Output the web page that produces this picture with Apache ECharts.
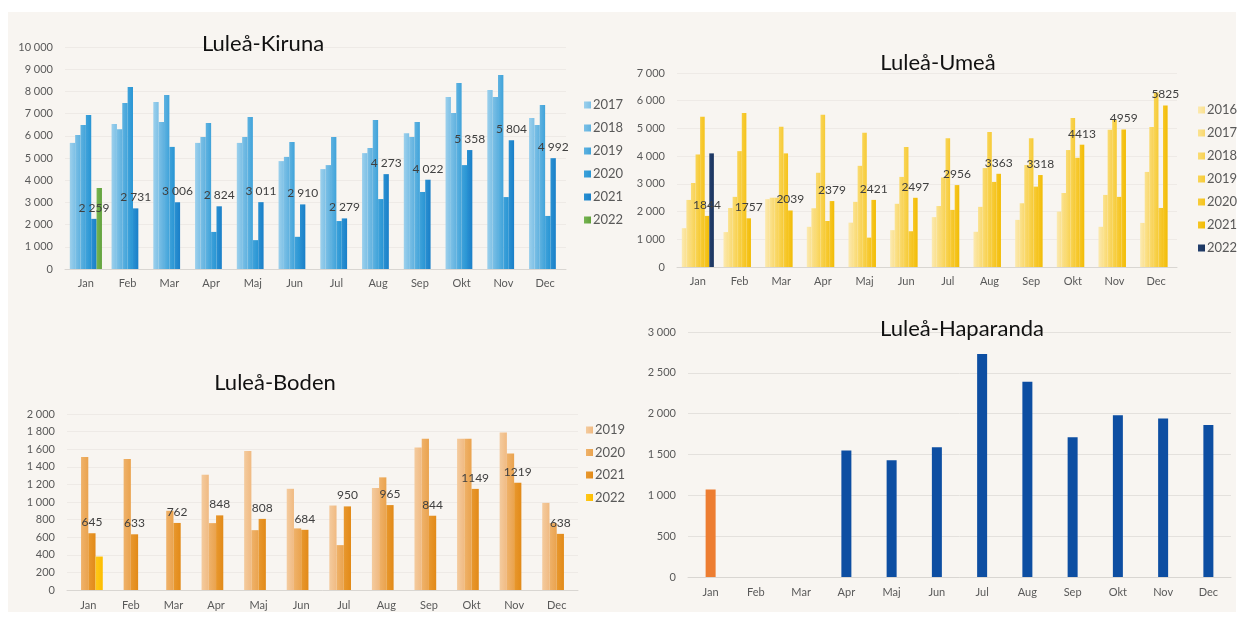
<!DOCTYPE html>
<html>
<head>
<meta charset="utf-8">
<script src="https://cdn.jsdelivr.net/npm/echarts@6/dist/echarts.min.js"></script>
<style>
  html, body { margin:0; padding:0; background:#ffffff; width:1243px; height:621px; overflow:hidden; }
  .panel { position:absolute; left:8px; top:12px; width:1228px; height:600px; background:#F8F5F1; }
  .chart { position:absolute; left:0; top:0; width:1243px; height:621px; }
</style>
</head>
<body>
<div class="panel"></div>
<div id="kiruna" class="chart"></div>
<div id="umea" class="chart"></div>
<div id="boden" class="chart"></div>
<div id="haparanda" class="chart"></div>
<script>
// ---------- DATA ----------
const months = ['Jan','Feb','Mar','Apr','Maj','Jun','Jul','Aug','Sep','Okt','Nov','Dec'];

// Luleå-Kiruna
const kirunaYears = ['2017','2018','2019','2020','2021','2022'];
const kiruna2017 = [5680, 6530, 7520, 5680, 5680, 4860, 4500, 5220, 6120, 7750, 8060, 6800];
const kiruna2018 = [6040, 6300, 6620, 5950, 5950, 5050, 4680, 5450, 5950, 7030, 7750, 6490];
const kiruna2019 = [6490, 7480, 7840, 6580, 6850, 5720, 5950, 6710, 6620, 8380, 8740, 7390];
const kiruna2020 = [6940, 8200, 5500, 1670, 1300, 1450, 2160, 3150, 3470, 4680, 3240, 2390];
const kiruna2021 = [2259, 2731, 3006, 2824, 3011, 2910, 2279, 4273, 4022, 5358, 5804, 4992];
const kiruna2022 = [3650, null, null, null, null, null, null, null, null, null, null, null];

// Luleå-Umeå
const umeaYears = ['2016','2017','2018','2019','2020','2021','2022'];
const umea2016 = [1400, 1260, 2450, 1450, 1600, 1330, 1800, 1270, 1700, 2000, 1450, 1590];
const umea2017 = [2420, 2130, 2500, 2120, 2350, 2280, 2200, 2170, 2300, 2670, 2600, 3430];
const umea2018 = [3030, 2530, 2500, 3400, 3650, 3250, 3230, 3570, 3680, 4220, 4950, 5050];
const umea2019 = [4060, 4180, 5060, 5490, 4840, 4330, 4650, 4870, 4650, 5380, 5300, 6300];
const umea2020 = [5420, 5560, 4100, 1660, 1060, 1290, 2060, 3070, 2900, 3940, 2530, 2130];
const umea2021 = [1844, 1757, 2039, 2379, 2421, 2497, 2956, 3363, 3318, 4413, 4959, 5825];
const umea2022 = [4100, null, null, null, null, null, null, null, null, null, null, null];

// Luleå-Boden
const bodenYears = ['2019','2020','2021','2022'];
const boden2019 = [null, null, null, 1310, 1580, 1150, 960, 1160, 1620, 1720, 1790, 990];
const boden2020 = [1510, 1490, 900, 760, 680, 700, 510, 1280, 1720, 1720, 1550, 760];
const boden2021 = [645, 633, 762, 848, 808, 684, 950, 965, 844, 1149, 1219, 638];
const boden2022 = [380, null, null, null, null, null, null, null, null, null, null, null];

// Luleå-Haparanda
const hapaA = [1070, null, null, null, null, null, null, null, null, null, null, null];
const hapaB = [null, null, null, 1550, 1430, 1590, 2730, 2390, 1710, 1980, 1940, 1860];

// ---------- HELPERS ----------
const FONT = 'Lato, "Open Sans", sans-serif';
const spaceFmt = v => String(v).replace(/\B(?=(\d{3})+(?!\d))/g, ' ');
const grad = (a, b) => ({type:'linear', x:0, y:0, x2:1, y2:0,
  colorStops:[{offset:0, color:a}, {offset:1, color:b}]});

function xAxis(margin) {
  return {
    type:'category', data:months,
    axisTick:{show:false},
    axisLine:{lineStyle:{color:'#D9D6D2'}},
    axisLabel:{color:'#595959', fontSize:11, fontFamily:FONT, margin:margin}
  };
}
function yAxis(max, interval, grid) {
  return {
    type:'value', min:0, max:max, interval:interval,
    axisLine:{show:false}, axisTick:{show:false},
    splitLine:{lineStyle:{color: grid || '#EEEAE6'}},
    axisLabel:{color:'#595959', fontSize:11, fontFamily:FONT, margin:12, formatter:spaceFmt}
  };
}
function title(text, x, y) {
  return {text:text, left:x, top:y, textAlign:'center',
    textStyle:{fontSize:22, fontWeight:'normal', color:'#111', fontFamily:FONT}};
}
function legend(names, left, top, gap) {
  return {orient:'vertical', left:left, top:top, data:names, icon:'rect',
    itemWidth:7, itemHeight:7, itemGap:gap,
    textStyle:{fontSize:13, color:'#595959', fontFamily:FONT, lineHeight:14, padding:[0,0,0,-3]}};
}
function barSeries(name, data, color, catGap, labelFmt) {
  const s = {name:name, type:'bar', data:data, itemStyle:{color:color},
    barGap:'0%', barCategoryGap:catGap, animation:false};
  if (labelFmt) {
    s.label = {show:true, position:'top', distance:5, fontSize:12, color:'#404040',
      fontFamily:FONT, formatter: p => labelFmt(p.value)};
  }
  return s;
}

// ---------- Luleå-Kiruna ----------
const kCols = [grad('#9CD0EC','#7DC0E6'), grad('#7CC0E6','#5FB1DF'), grad('#5FB2E0','#40A3DA'),
               grad('#3FA2DA','#2895D4'), grad('#2A91D2','#1A7FC8'), grad('#77B552','#62A23C')];
const kData = [kiruna2017, kiruna2018, kiruna2019, kiruna2020, kiruna2021, kiruna2022];
echarts.init(document.getElementById('kiruna')).setOption({
  animation:false,
  title: title('Luleå-Kiruna', 258, 28),
  legend: legend(kirunaYears, 579, 93, 9),
  grid:{left:65, right:677, top:47, bottom:352},
  xAxis: xAxis(9),
  yAxis: yAxis(10000, 1000),
  series: kirunaYears.map((y, i) => barSeries(y, kData[i], kCols[i], '23%', y === '2021' ? spaceFmt : null))
});

// ---------- Luleå-Umeå ----------
const uCols = [grad('#FCEAB0','#FAE08F'), grad('#FBE391','#F9D86F'), grad('#FADC74','#F8D152'),
               grad('#F9D557','#F6CA36'), grad('#F8CD3C','#F5C31C'), grad('#F6C625','#F2BC05'),
               grad('#24406E','#1B345E')];
const uData = [umea2016, umea2017, umea2018, umea2019, umea2020, umea2021, umea2022];
echarts.init(document.getElementById('umea')).setOption({
  animation:false,
  title: title('Luleå-Umeå', 933, 47),
  legend: legend(umeaYears, 1193, 98, 9),
  grid:{left:677, right:66, top:73, bottom:354},
  xAxis: xAxis(9),
  yAxis: yAxis(7000, 1000),
  series: umeaYears.map((y, i) => barSeries(y, uData[i], uCols[i], '23%', y === '2021' ? (v => String(v)) : null))
});

// ---------- Luleå-Boden ----------
const bCols = [grad('#F4CB9E','#F0BA82'), grad('#EFB26A','#EAA34E'), grad('#E8982F','#E28A18'),
               grad('#FFC81A','#FDBD00')];
const bData = [boden2019, boden2020, boden2021, boden2022];
echarts.init(document.getElementById('boden')).setOption({
  animation:false,
  title: title('Luleå-Boden', 270, 367),
  legend: legend(bodenYears, 581, 418, 8.5),
  grid:{left:67, right:665, top:414, bottom:31},
  xAxis: xAxis(10),
  yAxis: yAxis(2000, 200),
  series: bodenYears.map((y, i) => barSeries(y, bData[i], bCols[i], '32%', y === '2021' ? (v => String(v)) : null))
});

// ---------- Luleå-Haparanda ----------
echarts.init(document.getElementById('haparanda')).setOption({
  animation:false,
  title: title('Luleå-Haparanda', 957, 313),
  grid:{left:688, right:12, top:332, bottom:44},
  xAxis: xAxis(10),
  yAxis: yAxis(3000, 500, '#E4E1DD'),
  series: [
    {name:'A', type:'bar', data:hapaA, barWidth:10, itemStyle:{color:'#ED7D31'}, animation:false},
    {name:'B', type:'bar', data:hapaB, barWidth:10, barGap:'-100%', itemStyle:{color:'#0D4EA2'}, animation:false}
  ]
});
</script>
</body>
</html>
